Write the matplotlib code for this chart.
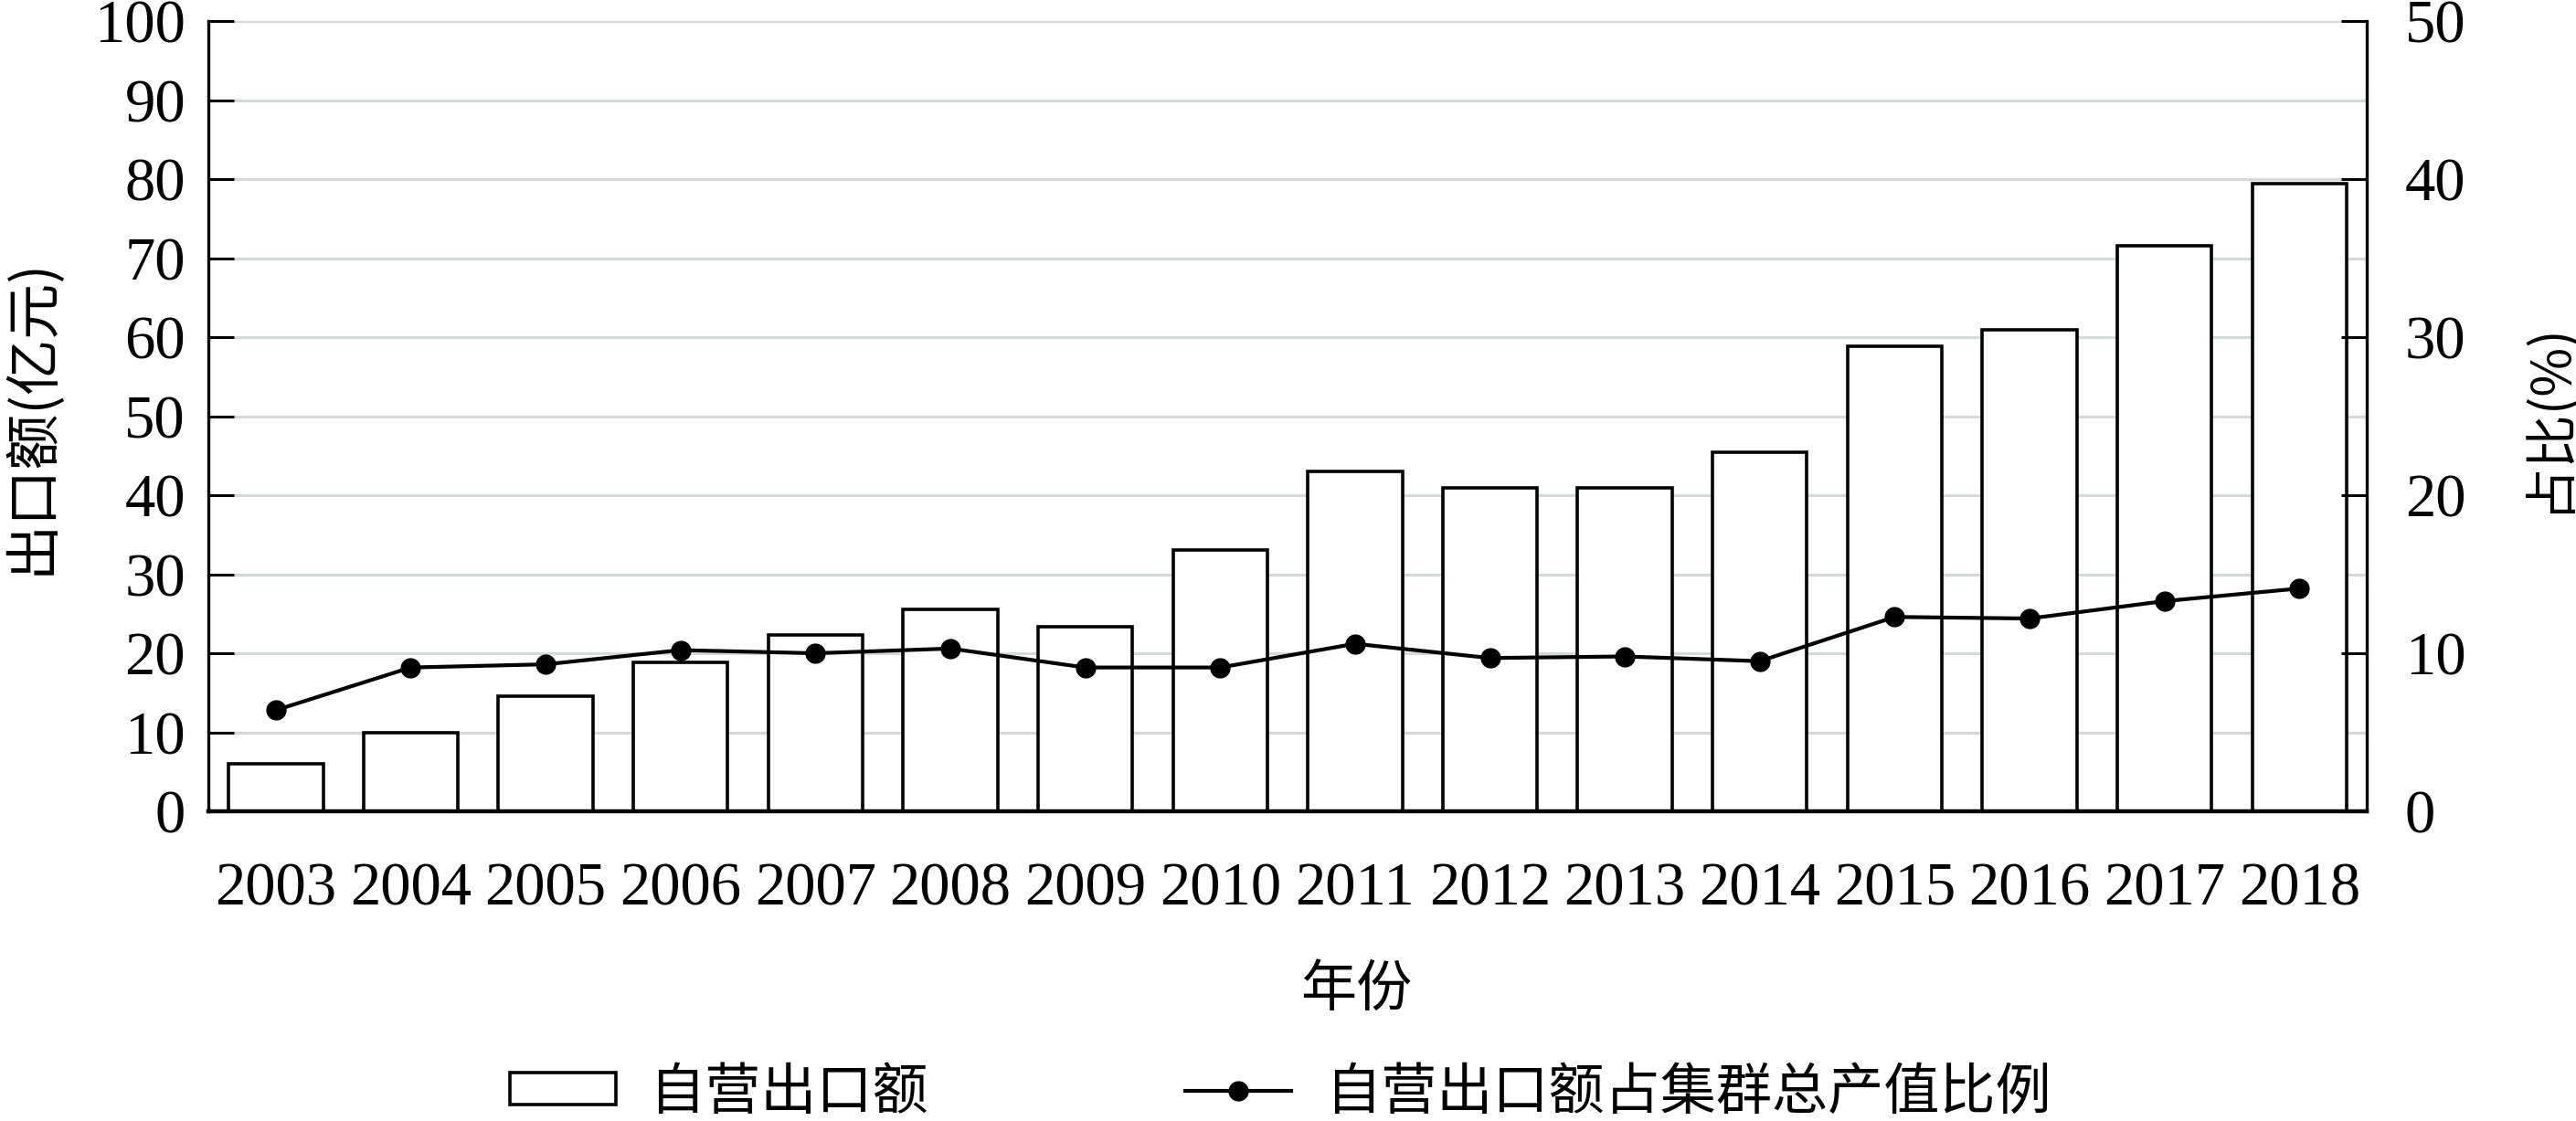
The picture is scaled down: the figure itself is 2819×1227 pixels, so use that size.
import matplotlib
matplotlib.use("Agg")
import matplotlib.pyplot as plt
import numpy as np

years = ["2003", "2004", "2005", "2006", "2007", "2008", "2009", "2010",
         "2011", "2012", "2013", "2014", "2015", "2016", "2017", "2018"]
export_value = [6.0, 10.0, 14.6, 18.8, 22.3, 25.5, 23.4, 33.1,
                43.0, 40.9, 40.9, 45.4, 58.9, 61.0, 71.6, 79.5]
share_pct = [6.4, 9.1, 9.3, 10.2, 10.0, 10.3, 9.1, 9.1,
             10.6, 9.7, 9.8, 9.5, 12.3, 12.2, 13.3, 14.1]
left_ticks = [0, 10, 20, 30, 40, 50, 60, 70, 80, 90, 100]
right_ticks = [0, 10, 20, 30, 40, 50]

serif = ["Liberation Serif", "DejaVu Serif"]
cjk = ["Noto Sans CJK SC", "DejaVu Sans"]

fig = plt.figure(figsize=(28.19, 12.27), dpi=100)
ax = fig.add_axes([0.0809, 0.2763, 0.9188 - 0.0809, 0.981 - 0.2763])
x = np.arange(len(years))

ax.set_axisbelow(True)
ax.yaxis.grid(True, color="#d3dada", linewidth=2.2)
bars = ax.bar(x, export_value, width=0.70, facecolor="white", edgecolor="black",
              linewidth=2.6, label="自营出口额", zorder=2)
ax.set_xlim(-0.5, len(years) - 0.5)
ax.set_ylim(0, 100)
ax.set_yticks(left_ticks)
ax.set_xticks(x)
ax.set_xticklabels(years, fontfamily=serif, fontsize=48)
for lab in ax.get_yticklabels():
    lab.set_fontfamily(serif)
    lab.set_fontsize(48)
ax.tick_params(axis="x", length=0, pad=40)
ax.tick_params(axis="y", direction="in", length=20, width=2.2, pad=18)
ax.spines["top"].set_visible(False)
ax.spines["right"].set_visible(False)
ax.spines["left"].set_linewidth(2.4)
ax.spines["bottom"].set_linewidth(3.2)
ax.set_ylabel("出口额(亿元)", fontfamily=cjk, fontsize=44)
ax.yaxis.set_label_coords(-0.0685, 0.5)
ax.set_xlabel("年份", fontfamily=cjk, fontsize=44)
ax.xaxis.set_label_coords(0.532, -0.19)

ax2 = ax.twinx()
ax2.set_ylim(0, 50)
ax2.set_yticks(right_ticks)
line, = ax2.plot(x, share_pct, color="black", linewidth=3.0, marker="o",
                 markersize=15, label="自营出口额占集群总产值比例", zorder=3)
for lab in ax2.get_yticklabels():
    lab.set_fontfamily(serif)
    lab.set_fontsize(48)
ax2.tick_params(axis="y", direction="in", length=20, width=2.2, pad=30)
ax2.spines["top"].set_visible(False)
ax2.spines["left"].set_visible(False)
ax2.spines["bottom"].set_visible(False)
ax2.spines["right"].set_linewidth(2.4)
ax2.set_ylabel("占比(%)", fontfamily=cjk, fontsize=42, rotation=90)
ax2.yaxis.set_label_coords(1.071, 0.5)

fig.legend([bars, line], ["自营出口额", "自营出口额占集群总产值比例"],
           loc="center", bbox_to_anchor=(0.497, 0.025), ncol=2, frameon=False,
           prop={"family": cjk, "size": 44}, handlelength=1.9, handleheight=0.5,
           columnspacing=4.6, handletextpad=0.6)

fig.savefig("out.png", dpi=100)
